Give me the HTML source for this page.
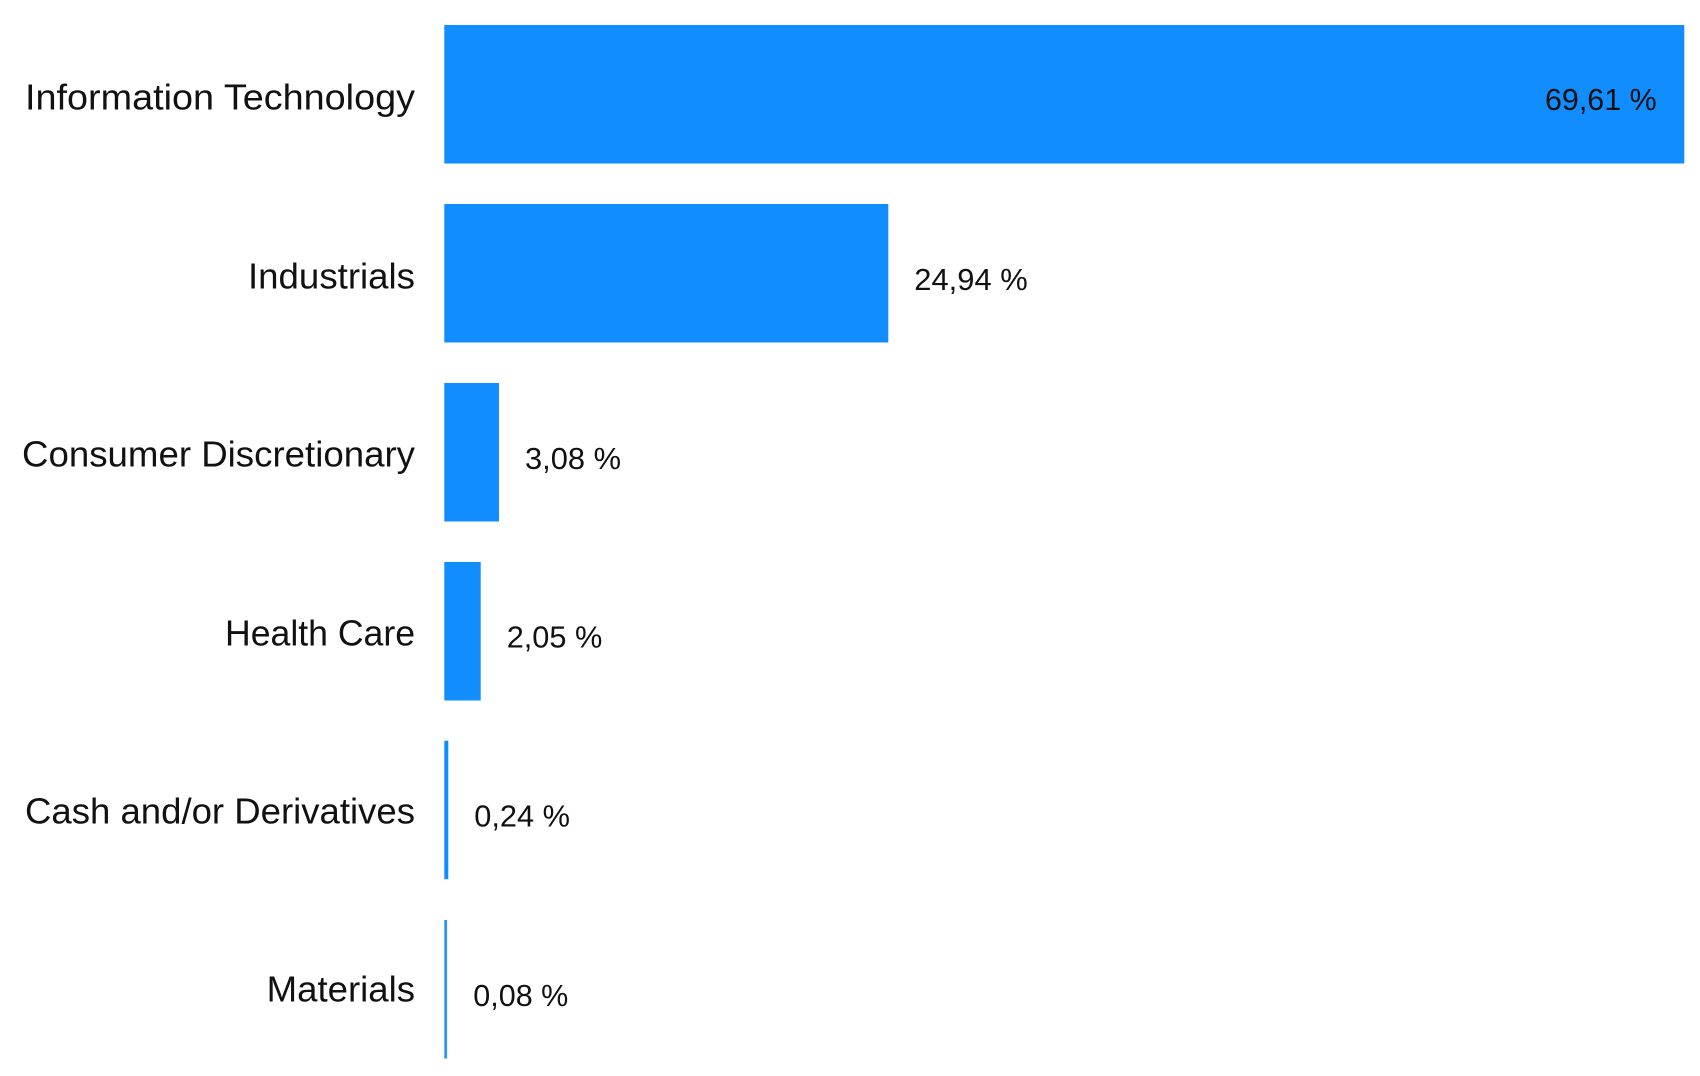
<!DOCTYPE html>
<html>
<head>
<meta charset="utf-8">
<style>
  html, body { margin: 0; padding: 0; background: #ffffff; }
  svg { display: block; }
  text { font-family: "Liberation Sans", "DejaVu Sans", sans-serif; fill: #111111; }
  .cat { font-size: 36px; }
  .val { font-size: 31px; }
</style>
</head>
<body>
<svg width="1700" height="1076" viewBox="0 0 1700 1076" xmlns="http://www.w3.org/2000/svg">
  <rect x="0" y="0" width="1700" height="1076" fill="#ffffff"/>

  <!-- Bars -->
  <rect x="444.3" y="25" width="1240" height="138.5" fill="#118DFF"/>
  <rect x="444.3" y="204" width="444" height="138.5" fill="#118DFF"/>
  <rect x="444.3" y="383" width="54.7" height="138.5" fill="#118DFF"/>
  <rect x="444.3" y="562" width="36.4" height="138.5" fill="#118DFF"/>
  <rect x="444.3" y="740.7" width="4" height="138.5" fill="#118DFF"/>
  <rect x="444.3" y="920" width="2.8" height="138.5" fill="#2F95F2"/>

  <!-- Category labels -->
  <text class="cat" x="415" y="109.3" text-anchor="end" textLength="390" lengthAdjust="spacingAndGlyphs">Information Technology</text>
  <text class="cat" x="415" y="288.3" text-anchor="end" textLength="167" lengthAdjust="spacingAndGlyphs">Industrials</text>
  <text class="cat" x="415" y="466.7" text-anchor="end" textLength="393" lengthAdjust="spacingAndGlyphs">Consumer Discretionary</text>
  <text class="cat" x="415" y="645.5" text-anchor="end" textLength="190" lengthAdjust="spacingAndGlyphs">Health Care</text>
  <text class="cat" x="415" y="823.3" text-anchor="end" textLength="390" lengthAdjust="spacingAndGlyphs">Cash and/or Derivatives</text>
  <text class="cat" x="415" y="1001.7" text-anchor="end" textLength="148.3" lengthAdjust="spacingAndGlyphs">Materials</text>

  <!-- Value labels -->
  <text class="val" x="1545" y="110" textLength="111.7" lengthAdjust="spacingAndGlyphs">69,61 %</text>
  <text class="val" x="914.3" y="290" textLength="113.4" lengthAdjust="spacingAndGlyphs">24,94 %</text>
  <text class="val" x="525" y="469" textLength="96" lengthAdjust="spacingAndGlyphs">3,08 %</text>
  <text class="val" x="506.7" y="647.7" textLength="95.6" lengthAdjust="spacingAndGlyphs">2,05 %</text>
  <text class="val" x="474.3" y="826.7" textLength="95.7" lengthAdjust="spacingAndGlyphs">0,24 %</text>
  <text class="val" x="473.3" y="1006" textLength="95" lengthAdjust="spacingAndGlyphs">0,08 %</text>
</svg>
</body>
</html>
